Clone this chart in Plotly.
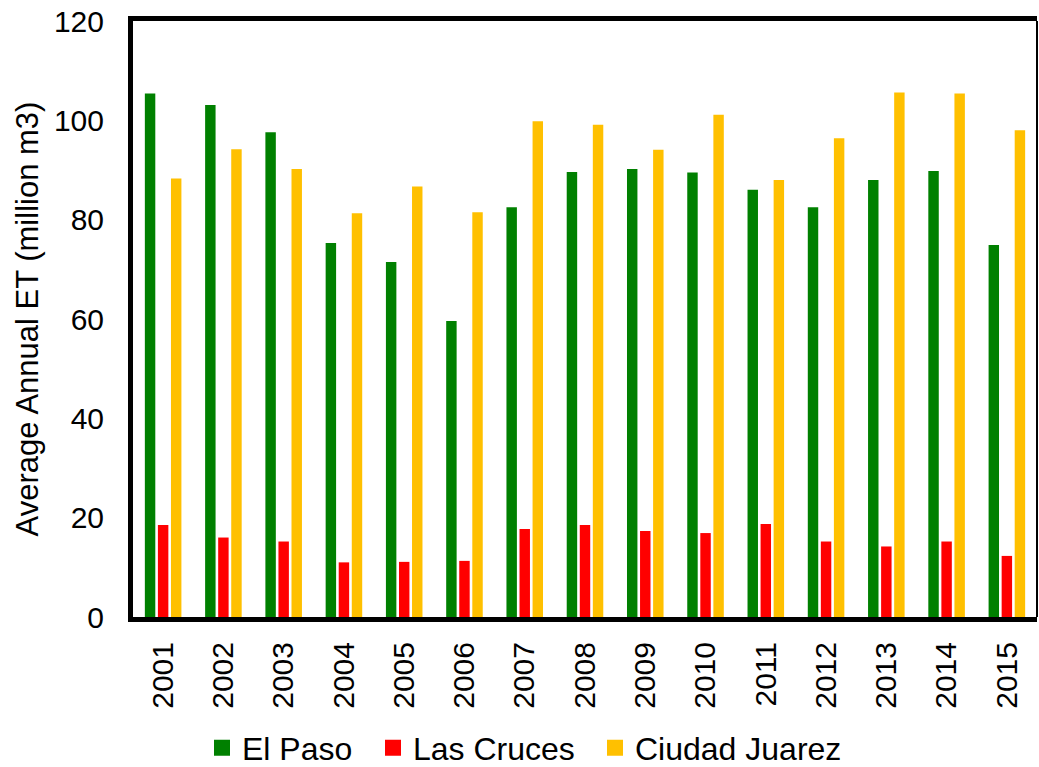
import plotly.graph_objects as go

years = ["2001", "2002", "2003", "2004", "2005", "2006", "2007", "2008",
         "2009", "2010", "2011", "2012", "2013", "2014", "2015"]
el_paso = [105.4, 103.1, 97.6, 75.3, 71.5, 59.6, 82.5, 89.6,
           90.2, 89.5, 86.0, 82.5, 88.0, 89.8, 74.9]
las_cruces = [18.5, 16.0, 15.2, 11.0, 11.1, 11.3, 17.7, 18.5,
              17.3, 16.9, 18.7, 15.2, 14.2, 15.2, 12.3]
ciudad_juarez = [88.3, 94.2, 90.2, 81.3, 86.7, 81.5, 99.8, 99.1,
                 94.1, 101.1, 88.0, 96.4, 105.6, 105.4, 98.0]

series = [("El Paso", el_paso, "#008000"),
          ("Las Cruces", las_cruces, "#FF0000"),
          ("Ciudad Juarez", ciudad_juarez, "#FFC000")]

FONT = "Liberation Sans, Arial, sans-serif"
W, H = 1039, 767
legend_left_px = [202, 373, 595]
legend_names = ["legend", "legend2", "legend3"]

fig = go.Figure()
for name, vals, col in series:
    fig.add_trace(go.Bar(x=years, y=vals, name=name, marker_color=col,
                         marker_line_width=0, showlegend=False))
for (name, vals, col), lg in zip(series, legend_names):
    fig.add_trace(go.Scatter(x=[None], y=[None], mode="markers", name=name,
                             marker=dict(symbol="square", size=16, color=col),
                             showlegend=True, legend=lg))

layout = dict(
    width=W, height=H,
    margin=dict(l=133, r=2, t=21, b=150, autoexpand=False),
    paper_bgcolor="white", plot_bgcolor="white",
    barmode="group", bargap=0.35, bargroupgap=0.2,
    font=dict(family=FONT, size=30, color="black"),
    xaxis=dict(type="category", tickangle=-90, showgrid=False, automargin=False,
               showline=True, linecolor="black", linewidth=5, mirror=True,
               ticks="", ticklabelstandoff=8, zeroline=False),
    yaxis=dict(range=[0, 120], dtick=20, showgrid=False, zeroline=False, automargin=False,
               showline=True, linecolor="black", linewidth=5,
               ticks="", ticklabelstandoff=18,
               title=dict(text="Average Annual ET (million m3)",
                          font=dict(size=31), standoff=8)),
    shapes=[dict(type="line", xref="paper", yref="paper", x0=1, x1=1, y0=0, y1=1,
                 line=dict(color="black", width=2))],
)
for lg, px in zip(legend_names, legend_left_px):
    layout[lg] = dict(orientation="h", xref="container", yref="container",
                      x=px / W, xanchor="left", y=19 / H, yanchor="middle",
                      font=dict(size=32), itemsizing="trace",
                      bgcolor="rgba(0,0,0,0)")
fig.update_layout(**layout)

fig.write_html("out.html",
               config={"displayModeBar": False},
               post_script="document.body.style.margin='0';document.body.style.overflow='hidden';")
